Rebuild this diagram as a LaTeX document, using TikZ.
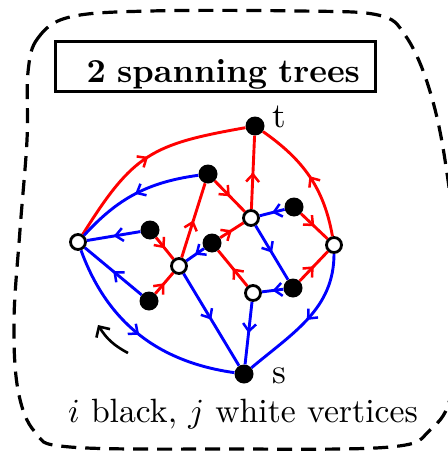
\documentclass[tikz,border=0pt]{standalone}
\usepackage{graphicx}
\usetikzlibrary{arrows.meta,decorations.markings}
\begin{document}
\begin{tikzpicture}[x=1pt,y=1pt,
  bnode/.style={circle, fill=black, inner sep=0pt, minimum size=19pt},
  wnode/.style={circle, draw=black, fill=white, line width=2.8pt, inner sep=0pt, minimum size=15pt},
  marr/.style={postaction={decorate}, decoration={markings, mark=at position 0.5 with {\arrow{Straight Barb[length=7.5pt,width=13pt,line width=2.5pt]}}}},
  redge/.style={color=red, line width=2.9pt, marr},
  bedge/.style={color=blue, line width=2.9pt, marr},
  lbl/.style={inner sep=0pt}
]
\useasboundingbox (0,0) rectangle (447,-452);

% dashed outline
\draw[line width=3.2pt, dash pattern=on 15pt off 9pt]
  plot[smooth cycle, tension=0.6] coordinates {
   (28,-72) (38,-38) (70,-17) (150,-11) (300,-11) (378,-15) (405,-35) (428,-85)
   (445,-160) (458,-280) (452,-390) (430,-430) (390,-447) (230,-449) (70,-447)
   (35,-432) (18,-390) (14,-320) (20,-230) (27,-140)};

% title
\node (title) [lbl, draw, line width=3pt, minimum height=50pt, text width=289pt, align=right,
  inner xsep=15.5pt, inner ysep=0pt, text height=37pt, text depth=6pt]
  at (215.5,-66.5) {\scalebox{3.36}{\bfseries 2 spanning trees}};

% vertices
\node (t)  [bnode] at (255,-126) {};
\node (s)  [bnode] at (244,-374) {};
\node (L)  [wnode] at (78,-242) {};
\node (R)  [wnode] at (334,-245) {};
\node (b1) [bnode] at (208,-174) {};
\node (b2) [bnode] at (150,-230) {};
\node (b3) [bnode] at (212,-243) {};
\node (b4) [bnode] at (294,-207) {};
\node (b5) [bnode] at (149,-301) {};
\node (b6) [bnode] at (293,-288) {};
\node (w1) [wnode] at (251,-218) {};
\node (w2) [wnode] at (179,-266) {};
\node (w3) [wnode] at (253,-293) {};

% labels
\node (tl) [lbl, anchor=base] at (279,-127) {\scalebox{3.5}{t}};
\node (sl) [lbl, anchor=base] at (279,-383) {\scalebox{3.5}{s}};
\node (cap) [lbl, anchor=base] at (243,-422) {\scalebox{3.37}{$i$ black, $j$ white vertices}};

% red tree
\draw[redge] (L) to[out=58,in=190,looseness=1.25] (t);
\draw[redge] (b1) -- (w1);
\draw[redge] (w1) -- (t);
\draw[redge] (w2) -- (b1);
\draw[redge] (b2) -- (w2);
\draw[redge] (b5) -- (w2);
\draw[redge] (b3) -- (w1);
\draw[redge] (w3) -- (b3);
\draw[redge] (b4) -- (R);
\draw[redge] (R) to[out=100,in=-35] (t);
\draw[redge] (b6) -- (R);

% blue tree
\draw[bedge] (b1) to[bend right=20] (L);
\draw[bedge] (b2) -- (L);
\draw[bedge] (b5) -- (L);
\draw[bedge] (L) to[out=-70,in=172] (s);
\draw[bedge] (b3) -- (w2);
\draw[bedge] (w2) -- (s);
\draw[bedge] (b4) -- (w1);
\draw[bedge] (w1) -- (b6);
\draw[bedge] (b6) -- (w3);
\draw[bedge] (w3) -- (s);
\draw[bedge] (R) to[out=-90,in=40] (s);

% rotation arrow
\coordinate (a1) at (128,-353);
\coordinate (a2) at (98,-325);
\draw[line width=2.6pt, -{Straight Barb[length=8pt,width=16pt]}] (a1) to[bend left=15] (a2);
\end{tikzpicture}
\end{document}
